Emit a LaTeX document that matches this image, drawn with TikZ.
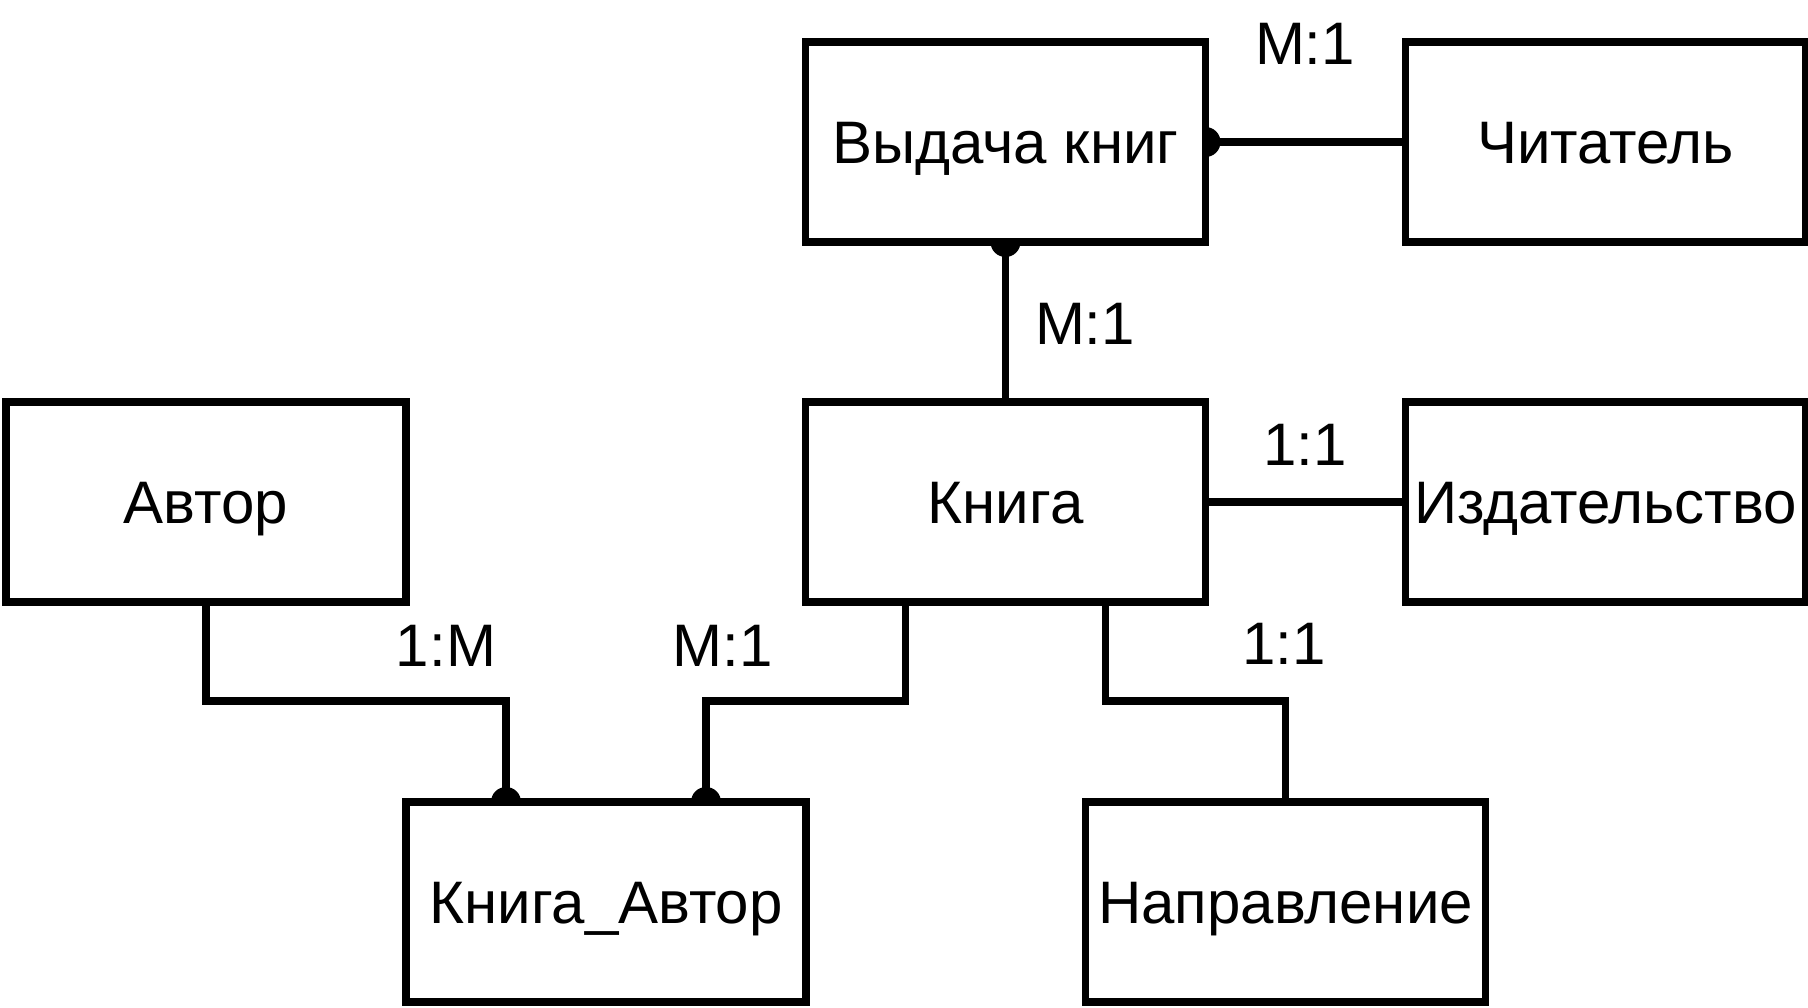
\documentclass[tikz,border=0pt]{standalone}
\usepackage{fontspec}
\setmainfont{Liberation Sans}
\usetikzlibrary{backgrounds}
\begin{document}
\begin{tikzpicture}[x=1pt,y=-1pt,
  entity/.style={draw, line width=7.5pt, fill=white, minimum width=400pt, minimum height=200pt,
    inner sep=0pt, outer sep=0pt, text height=43pt, text depth=0pt, font=\fontsize{60}{72}\selectfont},
  conn/.style={line width=7.5pt},
  lbl/.style={inner sep=0pt, text height=43pt, text depth=0pt, font=\fontsize{60}{72}\selectfont},
  enddot/.style={fill=black}]
\useasboundingbox (0,0) rectangle (1808,1008);
\node[entity] (vyd) at (1005.5,142) {Выдача книг};
\node[entity] (chit) at (1605.5,142) {Читатель};
\node[entity] (avtor) at (206,502) {Автор};
\node[entity] (kniga) at (1005.5,502) {Книга};
\node[entity] (izd) at (1605.5,502) {Издательство};
\node[entity] (ka) at (606,902) {Книга\_Автор};
\node[entity] (napr) at (1285.5,902) {Направление};

\node[lbl] (l1) at (1305,43) {M:1};
\node[lbl] (l2) at (1085,323) {M:1};
\node[lbl] (l3) at (1305,444) {1:1};
\node[lbl] (l4) at (446,645) {1:M};
\node[lbl] (l5) at (723,645) {M:1};
\node[lbl] (l6) at (1284,643) {1:1};

\begin{pgfonlayer}{background}
\coordinate (bend) at (0,701);
\path (ka.north west) ++(100,0) coordinate (kaA);
\path (ka.north west) ++(300,0) coordinate (kaB);
\path (kniga.south west) ++(100,0) coordinate (knA);
\path (kniga.south west) ++(300,0) coordinate (knB);
\draw[conn] (vyd.east) -- (chit.west);
\draw[conn] (vyd.south) -- (kniga.north);
\draw[conn] (kniga.east) -- (izd.west);
\draw[conn] (avtor.south) -- (avtor.south |- bend) -| (kaA);
\draw[conn] (knA) -- (knA |- bend) -| (kaB);
\draw[conn] (knB) -- (knB |- bend) -| (napr.north);
\fill[enddot] (vyd.east) circle (15);
\fill[enddot] (vyd.south) circle (15);
\fill[enddot] (kaA) circle (15);
\fill[enddot] (kaB) circle (15);
\end{pgfonlayer}
\end{tikzpicture}
\end{document}
